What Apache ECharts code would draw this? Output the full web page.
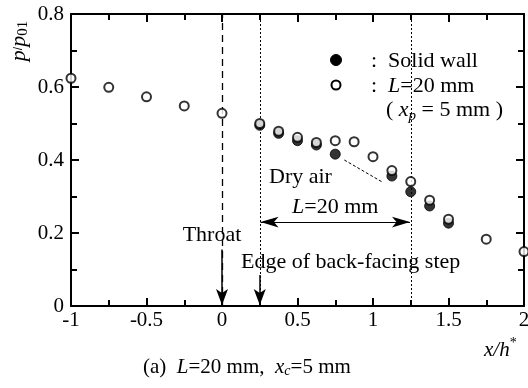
<!DOCTYPE html>
<html><head><meta charset="utf-8">
<script src="https://cdn.jsdelivr.net/npm/echarts@6/dist/echarts.min.js"></script>
<style>html,body{margin:0;padding:0;background:#fff}.c{width:528px;height:388px;position:absolute;left:0;top:0}</style>
</head><body><div class="c" id="axes"></div><div class="c" id="plot"></div>
<script>
const xOpen = [-1, -0.75, -0.5, -0.25, 0, 0.25, 0.375, 0.5, 0.625, 0.75, 0.875, 1.0, 1.125, 1.25, 1.375, 1.5, 1.75, 2.0];
const yOpen = [0.624, 0.599, 0.573, 0.548, 0.528, 0.500, 0.479, 0.462, 0.448, 0.453, 0.450, 0.409, 0.371, 0.341, 0.290, 0.238, 0.183, 0.149];
const xSolid = [0.25, 0.375, 0.5, 0.625, 0.75, 1.125, 1.25, 1.375, 1.5];
const ySolid = [0.495, 0.473, 0.453, 0.441, 0.416, 0.356, 0.313, 0.274, 0.227];
const xTickLabels = ['-1', '-0.5', '0', '0.5', '1', '1.5', '2'];
const yTickLabels = ['0', '0.2', '0.4', '0.6', '0.8'];
const xThroat = 0, xEdge = 0.25, xEnd = 1.25;

const F = '"Liberation Serif", "DejaVu Serif", serif';
const GRID = {left: 71, right: 4, top: 14, bottom: 82, outerBoundsMode: 'none', containLabel: false};
function ax(extra, visible) {
  return Object.assign({
    type: 'value', show: visible,
    axisLine: {show: visible, onZero: false, lineStyle: {color: '#000', width: 2}},
    axisTick: {show: visible, inside: true, length: 8, lineStyle: {color: '#000', width: 2}},
    minorTick: {show: visible, splitNumber: 2, length: 6, lineStyle: {color: '#000', width: 2}},
    splitLine: {show: false}
  }, extra);
}
function axes(visible) {
  return {
    xAxis: [
      ax({min: -1, max: 2, interval: 0.5, position: 'bottom',
        axisLabel: {show: visible, color: '#000', fontFamily: F, fontSize: 21, margin: 4,
          formatter: v => xTickLabels[Math.round((v + 1) / 0.5)] ?? ''}}, visible),
      ax({min: -1, max: 2, interval: 0.5, position: 'top', axisLabel: {show: false}}, visible)
    ],
    yAxis: [
      ax({min: 0, max: 0.8, interval: 0.2, position: 'left',
        axisLabel: {show: visible, color: '#000', fontFamily: F, fontSize: 21, margin: 7,
          formatter: v => yTickLabels[Math.round(v / 0.2)] ?? ''}}, visible),
      ax({min: 0, max: 0.8, interval: 0.2, position: 'right', axisLabel: {show: false}}, visible)
    ]
  };
}
const it = {fontFamily: F, fontStyle: 'italic', fontSize: 22, fill: '#000'};

// Layer 1: frame, ticks and tick labels
const a = axes(true);
echarts.init(document.getElementById('axes')).setOption({
  animation: false, backgroundColor: '#fff', grid: GRID,
  xAxis: a.xAxis, yAxis: a.yAxis,
  series: [{type: 'scatter', data: []}]
});

// Layer 2: data, reference lines and annotations
const b = axes(false);
echarts.init(document.getElementById('plot')).setOption({
  animation: false, backgroundColor: 'transparent', grid: GRID,
  xAxis: b.xAxis, yAxis: b.yAxis,
  series: [
    {
      type: 'scatter', name: 'Solid wall', symbol: 'circle', symbolSize: 10,
      itemStyle: {color: '#000', borderColor: '#000', borderWidth: 1},
      data: xSolid.map((x, i) => [x, ySolid[i]]), z: 3
    },
    {
      type: 'scatter', name: 'L=20 mm', symbol: 'circle', symbolSize: 9,
      itemStyle: {color: '#fff', borderColor: '#000', borderWidth: 2},
      data: xOpen.map((x, i) => [x, yOpen[i]]), z: 4,
      markLine: {
        silent: true, symbol: ['none', 'none'], label: {show: false}, z: 2,
        data: [
          [{coord: [xThroat, 0], lineStyle: {type: [7, 5], width: 1.3, color: '#000'}}, {coord: [xThroat, 0.8]}],
          [{coord: [xEdge, 0], lineStyle: {type: [2, 2], width: 1, color: '#000'}}, {coord: [xEdge, 0.8]}],
          [{coord: [xEnd, 0], lineStyle: {type: [2, 2], width: 1, color: '#000'}}, {coord: [xEnd, 0.8]}],
          [{coord: [xThroat, 0.155], symbol: 'none', lineStyle: {type: 'solid', width: 1.5, color: '#000'}}, {coord: [xThroat, 0.003], symbol: 'arrow', symbolSize: [9, 16]}],
          [{coord: [xEdge, 0.085], symbol: 'none', lineStyle: {type: 'solid', width: 1.5, color: '#000'}}, {coord: [xEdge, 0.003], symbol: 'arrow', symbolSize: [9, 16]}],
          [{coord: [xEdge + 0.005, 0.23], symbol: 'arrow', symbolSize: [8, 18], lineStyle: {type: 'solid', width: 1.2, color: '#000'}}, {coord: [xEnd - 0.005, 0.23], symbol: 'arrow', symbolSize: [8, 18]}],
          [{coord: [0.81, 0.40], symbol: 'none', lineStyle: {type: [3, 2], width: 1, color: '#000'}}, {coord: [1.06, 0.34], symbol: 'none'}]
        ]
      }
    }
  ],
  graphic: [
    {type: 'text', x: 19, y: 41, rotation: Math.PI / 2,
      style: {text: '{i|p}/{i|p}{s|01}', align: 'center', verticalAlign: 'middle', rich: {
        i: it,
        s: {fontFamily: F, fontSize: 15, fill: '#000', padding: [8, 0, 0, 0]}}}},
    {type: 'text', x: 212, y: 235, style: {text: 'Throat', align: 'center', verticalAlign: 'middle', font: '22px ' + F, fill: '#000'}},
    {type: 'text', x: 241, y: 262, style: {text: 'Edge of back-facing step', verticalAlign: 'middle', font: '22px ' + F, fill: '#000'}},
    {type: 'text', x: 292, y: 207, style: {text: '{i|L}=20 mm', verticalAlign: 'middle', rich: {i: it}, font: '22px ' + F, fill: '#000'}},
    {type: 'text', x: 269, y: 177, style: {text: 'Dry air', verticalAlign: 'middle', font: '22px ' + F, fill: '#000'}},
    {type: 'circle', shape: {cx: 336, cy: 60, r: 5.5}, style: {fill: '#000', stroke: '#000'}},
    {type: 'circle', shape: {cx: 336, cy: 85, r: 4.5}, style: {fill: '#fff', stroke: '#000', lineWidth: 2}},
    {type: 'text', x: 371, y: 61, style: {text: ':  Solid wall', verticalAlign: 'middle', font: '22px ' + F, fill: '#000'}},
    {type: 'text', x: 371, y: 86, style: {text: ':  {i|L}=20 mm', verticalAlign: 'middle', rich: {i: it}, font: '22px ' + F, fill: '#000'}},
    {type: 'text', x: 386, y: 110, style: {text: '( {i|x}{s|p} = 5 mm )', verticalAlign: 'middle', rich: {
      i: it,
      s: {fontStyle: 'italic', fontFamily: F, fontSize: 15, fill: '#000', padding: [12, 0, 0, 0]}}, font: '22px ' + F, fill: '#000'}},
    {type: 'text', x: 484, y: 350, style: {text: 'x/h{s|*}', verticalAlign: 'middle', rich: {s: {fontFamily: F, fontSize: 14, fill: '#000', padding: [0, 0, 14, 0]}}, font: 'italic 21px ' + F, fill: '#000'}},
    {type: 'text', x: 143, y: 367, style: {text: '(a)  {i|L}={n|20 mm,}  {i|x}{s|c}={n|5 mm}', verticalAlign: 'middle', rich: {
      i: {fontStyle: 'italic', fontFamily: F, fontSize: 21, fill: '#000'},
      n: {fontFamily: F, fontSize: 21, fill: '#000'},
      s: {fontStyle: 'italic', fontFamily: F, fontSize: 14, fill: '#000', padding: [8, 0, 0, 0]}}, font: '21px ' + F, fill: '#000'}}
  ]
});
</script></body></html>
